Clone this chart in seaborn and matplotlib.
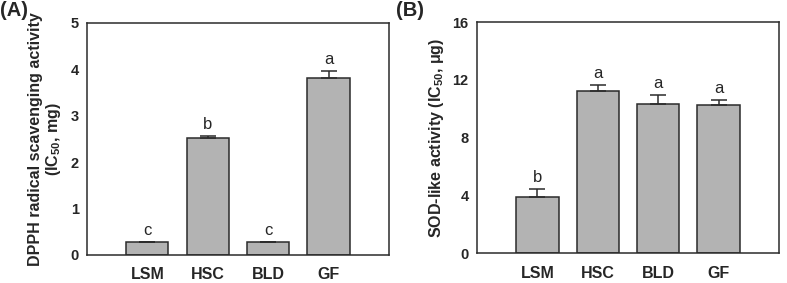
"""Antioxidant activity of the four samples: DPPH scavenging and SOD-like activity."""
import matplotlib
matplotlib.use("Agg")
import matplotlib.pyplot as plt
import pandas as pd
import seaborn as sns

SAMPLES = ["LSM", "HSC", "BLD", "GF"]

DPPH_MEAN = [0.27, 2.53, 0.27, 3.81]
DPPH_ERR = [0.01, 0.04, 0.01, 0.16]
DPPH_GROUP = ["c", "b", "c", "a"]

SOD_MEAN = [3.90, 11.25, 10.35, 10.22]
SOD_ERR = [0.50, 0.36, 0.60, 0.40]
SOD_GROUP = ["b", "a", "a", "a"]

BAR_COLOR = "#b3b3b3"
EDGE_COLOR = "#2b2b2b"


def _panel(ax, means, errs, groups, ymax, yticks, ylabel, tag, tag_x):
    data = pd.DataFrame({"sample": SAMPLES, "value": means})
    sns.barplot(data=data, x="sample", y="value", color=BAR_COLOR, saturation=1,
                width=0.7, edgecolor=EDGE_COLOR, linewidth=1.1, ax=ax)
    ax.errorbar(range(len(SAMPLES)), means, yerr=[[0] * len(errs), errs],
                fmt="none", ecolor=EDGE_COLOR, elinewidth=1.1, capsize=6, capthick=1.1)
    for i, (m, e, g) in enumerate(zip(means, errs, groups)):
        ax.annotate(g, (i, m + e), xytext=(0, 3), textcoords="offset points",
                    ha="center", va="bottom", fontsize=12)

    ax.set_xlim(-1, 4)
    ax.set_ylim(0, ymax)
    ax.set_yticks(yticks)
    ax.set_yticklabels([str(t) for t in yticks], fontweight="bold", fontsize=10.5)
    ax.set_xticks(range(len(SAMPLES)))
    ax.set_xticklabels(SAMPLES, fontweight="bold", fontsize=11.5)
    ax.tick_params(axis="y", direction="in", length=3, width=1, pad=6)
    ax.tick_params(axis="x", length=0, pad=9)
    ax.set_xlabel("")
    ax.set_ylabel(ylabel, fontweight="bold", fontsize=11.5, linespacing=1.1, labelpad=5)
    for spine in ax.spines.values():
        spine.set_visible(True)
        spine.set_color("#2b2b2b")
        spine.set_linewidth(1.1)
    ax.figure.text(tag_x, 0.995, tag, ha="left", va="top", fontsize=14.5, fontweight="bold")


sns.set_theme(style="white")
plt.rcParams["font.family"] = ["Liberation Sans", "DejaVu Sans"]
plt.rcParams["mathtext.fontset"] = "custom"
plt.rcParams["mathtext.rm"] = "Liberation Sans:bold"
plt.rcParams["mathtext.bf"] = "Liberation Sans:bold"

fig = plt.figure(figsize=(7.87, 2.83), dpi=100)
ax_a = fig.add_axes([0.1105, 0.099, 0.3837, 0.820])
ax_b = fig.add_axes([0.6061, 0.106, 0.3837, 0.816])

_panel(ax_a, DPPH_MEAN, DPPH_ERR, DPPH_GROUP, 5, [0, 1, 2, 3, 4, 5],
       "DPPH radical scavenging activity\n(IC$_{50}$, mg)", "(A)", 0.0)
_panel(ax_b, SOD_MEAN, SOD_ERR, SOD_GROUP, 16, [0, 4, 8, 12, 16],
       "SOD-like activity (IC$_{50}$, \u03bcg)", "(B)", 0.503)

fig.savefig("out.png", dpi=100)
